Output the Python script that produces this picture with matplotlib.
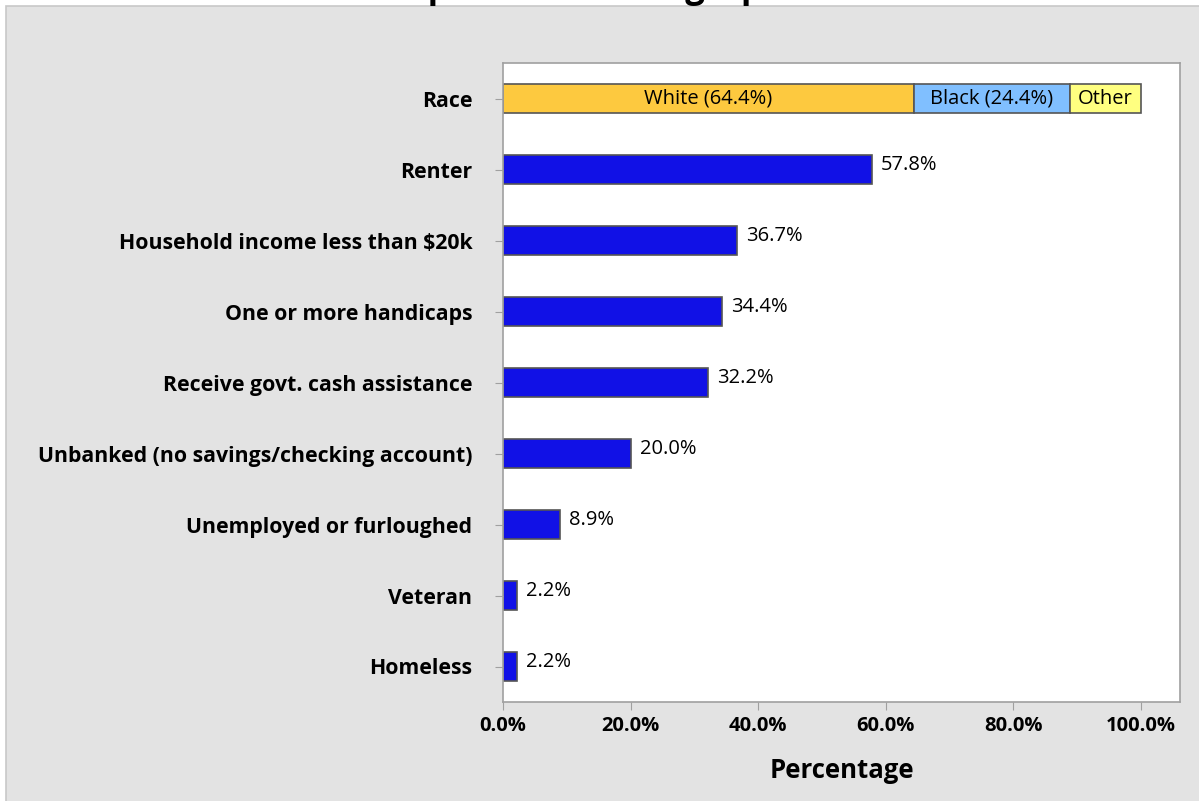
import matplotlib.pyplot as plt
from matplotlib.patches import Rectangle

categories = [
    "Homeless",
    "Veteran",
    "Unemployed or furloughed",
    "Unbanked (no savings/checking account)",
    "Receive govt. cash assistance",
    "One or more handicaps",
    "Household income less than $20k",
    "Renter",
]
values = [2.2, 2.2, 8.9, 20.0, 32.2, 34.4, 36.7, 57.8]

race_labels = ["White (64.4%)", "Black (24.4%)", "Other"]
race_values = [64.4, 24.4, 11.2]
race_colors = ["#FDC93F", "#80BFFF", "#FFFF80"]

x_ticks = [0, 20, 40, 60, 80, 100]
x_ticklabels = ["0.0%", "20.0%", "40.0%", "60.0%", "80.0%", "100.0%"]

plt.rcParams["font.family"] = ["Open Sans", "DejaVu Sans"]

fig = plt.figure(figsize=(11.99, 8.01), dpi=100, facecolor="white")
fig.patches.append(
    Rectangle((6 / 1199, -0.01), 1.0, 1 - 6 / 801 + 0.01, transform=fig.transFigure,
              facecolor="#E3E3E3", edgecolor="#C8C8C8", linewidth=1.2, zorder=-10)
)
# title sits mostly above the picture, as in the original export
fig.text(0.5, 1 + 3 / 801, "Respondent Demographics", ha="center", va="baseline",
         fontsize=25, fontweight="bold")

ax = fig.add_axes([503 / 1199, 1 - 702 / 801, (1180 - 503) / 1199, (702 - 63) / 801])
ax.set_facecolor("white")

bar_h = 0.41
edge = "#555555"
ax.barh(range(len(categories)), values, height=bar_h, color="#1111E6",
        edgecolor=edge, linewidth=1.2)
for i, v in enumerate(values):
    ax.text(v + 1.4, i + 0.06, f"{v:.1f}%", va="center", ha="left", fontsize=14.5)

race_y = len(categories)
left = 0
for lab, v, c in zip(race_labels, race_values, race_colors):
    ax.barh(race_y, v, left=left, height=bar_h, color=c, edgecolor=edge, linewidth=1.2)
    ax.text(left + v / 2, race_y, lab, ha="center", va="center", fontsize=14.5)
    left += v

ax.set_yticks(range(len(categories) + 1))
ax.set_yticklabels(categories + ["Race"], fontsize=15.3, fontweight="bold")
ax.set_xticks(x_ticks)
ax.set_xticklabels(x_ticklabels, fontsize=14.5, fontweight="bold")
ax.set_xlim(0, 106.1)
ax.set_ylim(-0.5, len(categories) + 0.5)
ax.set_xlabel("Percentage", fontsize=18.5, fontweight="bold", labelpad=15)

for s in ax.spines.values():
    s.set_color("#A0A0A0")
    s.set_linewidth(1.2)
ax.tick_params(axis="y", length=6, color="#A0A0A0", pad=16)
ax.tick_params(axis="x", length=6, color="#A0A0A0", pad=4)

fig.savefig("out.png", dpi=100, facecolor=fig.get_facecolor())
